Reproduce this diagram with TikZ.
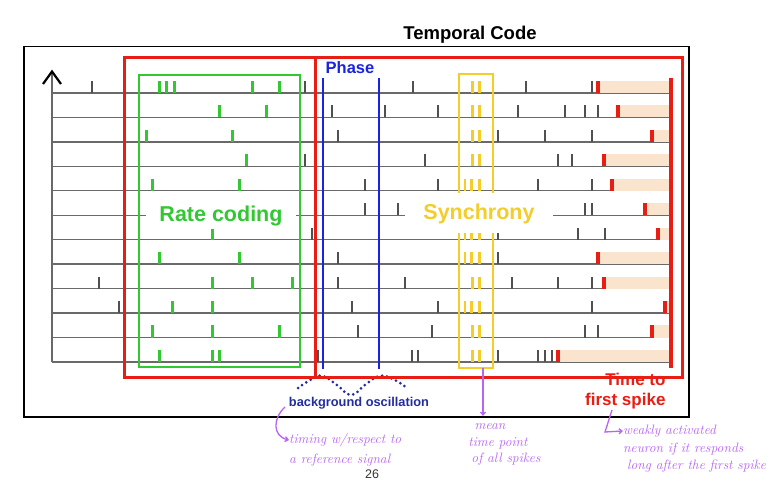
\documentclass[tikz,border=0pt]{standalone}
\usepackage{fontspec}
\newfontfamily\labelfont{Liberation Sans}
\usetikzlibrary{arrows.meta}
\usepackage{xcolor}
\definecolor{rategreen}{RGB}{50,200,50}
\definecolor{syncyellow}{RGB}{245,205,40}
\definecolor{firstred}{RGB}{232,30,20}
\definecolor{phaseblue}{RGB}{25,35,225}
\definecolor{oscblue}{RGB}{35,45,160}
\definecolor{peach}{RGB}{250,228,205}
\definecolor{notepurple}{RGB}{185,100,245}
\definecolor{spikegray}{RGB}{80,80,80}
\definecolor{linegray}{RGB}{105,105,105}

\begin{document}
\begin{tikzpicture}[x=1pt, y=-1pt,
  rowline/.style={draw=linegray, line width=1.4pt},
  graytick/.style={draw=spikegray, line width=2.2pt},
  ratetick/.style={draw=rategreen, line width=3pt},
  synctick/.style={draw=syncyellow, line width=2.6pt},
  firsttick/.style={draw=firstred, line width=4pt},
  codebox/.style={line width=3pt},
  codetext/.style={font=\labelfont\bfseries\fontsize{21.5}{24}\selectfont, fill=white, inner sep=0pt},
  notetext/.style={text=notepurple, font=\itshape\fontsize{13.6}{16}\selectfont, inner sep=0pt},
  notearrow/.style={draw=notepurple, line width=1.3pt, -{Straight Barb[length=3pt,width=5pt]}}]
  \useasboundingbox[fill=white] (0,0) rectangle (771,486);

  % frame and title
  \draw[line width=1.5pt] (24,46.5) rectangle (689,417);
  \node[anchor=base, font=\labelfont\bfseries\fontsize{18.5}{20}\selectfont] (title) at (470,40) {Temporal Code};
  \node[anchor=base, font=\labelfont\fontsize{12.5}{14}\selectfont, text=black!80] (page) at (372,478) {26};

  % spike trains
  \foreach \r in {1,...,12}
    \draw[rowline] (52,{93+(\r-1)*24.45}) -- (670,{93+(\r-1)*24.45});
  \draw[rowline] (52,362) -- (52,72);
  \draw[line width=2.2pt] (43,84) -- (52,71.5) -- (61,84);

  \foreach \r/\gs/\ls/\ys/\fx in {
    1/{91.7,305,412.7,526,591.7}/{159.3,166.7,174,252.7,279.3}/{472.7,479.3}/598.3,
    2/{331.7,385,438.3,518.3,565,585,598.3}/{219.3,266}/{472.7,479.3}/618.3,
    3/{338.3,498.3,545,591.7}/{146,232.7}/{472.7,479.3}/651.7,
    4/{305,425,558.3,571.7}/{246}/{472.7,479.3}/604.3,
    5/{365,438.3,538.3,591.7}/{152.7,239.3}/{465,471.7,479.3}/611.7,
    7/{311.7,498.3,578.3,605}/{212.7}/{465,471.7,479.3}/658.3,
    8/{338.3,498.3}/{159.3,239.3}/{465,471.7,479.3}/597.7,
    9/{99,338.3,405,511.7,558.3,591.7}/{212.7,252.7,292.7}/{472.7,479.3}/604.3,
    10/{119,351.7,438.3,591.7}/{172.7,212.7}/{465,471.7,479.3}/665,
    11/{358.3,431.7,585,598.3}/{152.7,212.7,279.3}/{472.7,479.3}/651.7,
    12/{318.3,411.7,418.3,498.3,538.3,545,551.7}/{159.3,212.7,219.3}/{472.7,479.3}/558.3}{
    \pgfmathsetmacro\yy{93+(\r-1)*24.45}
    \fill[peach] (\fx,{\yy-12}) rectangle (670,\yy);
    \foreach \x in \gs {\draw[graytick] (\x,\yy) -- ++(0,-12);}
    \foreach \x in \ls {\draw[ratetick] (\x,\yy) -- ++(0,-12);}
    \foreach \x in \ys {\draw[synctick] (\x,\yy) -- ++(0,-12);}
    \draw[firsttick] (\fx,\yy) -- ++(0,-12);
  }
  % row 6
  \fill[peach] (645,{215.25-12}) rectangle (670,215.25);
  \foreach \x in {365,398.3,585,591.7} {\draw[graytick] (\x,215.25) -- ++(0,-12);}
  \draw[firsttick] (645,215.25) -- ++(0,-12);

  % synchrony
  \draw[syncyellow, line width=2pt] (459,74) rectangle (493,368);
  \coordinate (syncfoot) at (483,368);
  \node[codetext, text=syncyellow, minimum width=148pt, minimum height=40pt] (sync) at (479,213.5) {Synchrony};

  % rate coding
  \node[codetext, text=rategreen, minimum width=150pt, minimum height=26pt] (rate) at (221,216) {Rate coding};
  \draw[rategreen, line width=2pt] (139,75) rectangle (300,367);

  % phase
  \draw[phaseblue, line width=2.6pt] (323,78) -- (323,369);
  \draw[phaseblue, line width=2.6pt] (379,78) -- (379,369);
  \node[anchor=base, text=phaseblue, font=\labelfont\bfseries\fontsize{16.5}{18}\selectfont] (phase) at (350,73.3) {Phase};
  \draw[oscblue, line width=3pt, line cap=round, dash pattern=on 0pt off 5pt]
    plot[smooth, tension=0.7] coordinates {(298,388) (312,379) (323,376) (337,385) (351,395) (365,385) (379,376) (393,379) (407,388)};
  \node[anchor=base, text=oscblue, font=\labelfont\bfseries\fontsize{12.8}{14}\selectfont] (osc) at (359,406) {background oscillation};

  % time to first spike
  \node[anchor=base east, text=firstred, font=\labelfont\bfseries\fontsize{17}{19}\selectfont] (timeto) at (669,385) {Time to};
  \node[anchor=base east, text=firstred, font=\labelfont\bfseries\fontsize{17}{19}\selectfont] (first) at (669,405) {first spike};
  \draw[firstred, line width=3.4pt] (671,78) -- (671,368);

  % red boxes
  \draw[firstred, codebox] (124,58) rectangle (315,377);
  \draw[firstred, codebox] (315,58) rectangle (682,377);

  % notes
  \node[notetext, anchor=west] (timing) at (289,440) {timing w/respect to};
  \node[notetext, anchor=west] (refsig) at (289,460) {a reference signal};
  \coordinate (oscfoot) at (285,407);
  \draw[notearrow] (oscfoot) .. controls (273,418) and (272,436) .. (timing.west);

  \node[notetext] (mean) at (490,427) {mean};
  \node[notetext] (tpoint) at (498,443) {time point};
  \node[notetext] (allspikes) at (506,459) {of all spikes};
  \draw[notearrow] (syncfoot) -- (483,416);

  \node[notetext, anchor=west] (weakly) at (623,431) {weakly activated};
  \node[notetext, anchor=west] (neuron) at (623,449) {neuron if it responds};
  \node[notetext, anchor=west] (longafter) at (627,466) {long after the first spike};
  \coordinate (firstfoot) at (612,410);
  \draw[notearrow] (firstfoot) -- (605,432) -- (weakly.west);
\end{tikzpicture}
\end{document}
